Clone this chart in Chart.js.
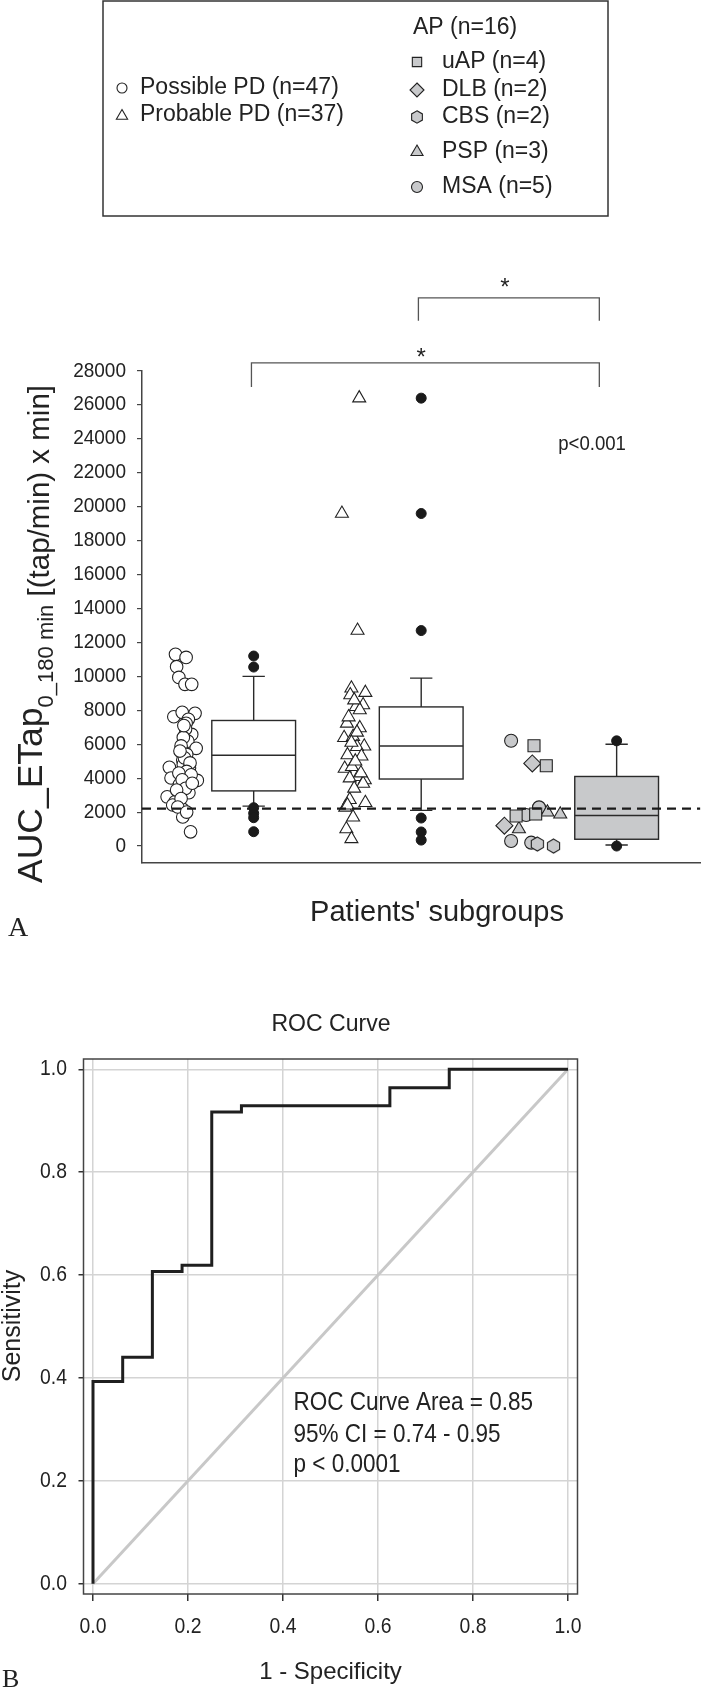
<!DOCTYPE html>
<html lang="en">
<head>
<meta charset="UTF-8">
<title>AUC_ETap by subgroup and ROC curve</title>
<script src="https://cdn.jsdelivr.net/npm/chart.js"></script>
<style>
    body { margin: 0; background: #fff; width: 710px; height: 1689px; position: relative; overflow: hidden; }
    .panel { position: absolute; left: 0; }
    #panelA { top: 0; }
    #panelB { top: 960px; }
</style>
</head>
<body>
<div class="panel" id="panelA"><canvas id="boxChart" width="710" height="960"></canvas></div>
<div class="panel" id="panelB"><canvas id="rocChart" width="710" height="729"></canvas></div>

<script>
// ---- panel A: AUC_ETap 0-180 min per patient (x = jittered position on the group axis)
var possibleX = [0.60, 0.79, 0.62, 0.66, 0.77, 0.89, 0.57, 0.72, 0.95, 0.83, 0.79, 0.89, 0.82, 0.97, 0.70, 0.73, 0.74, 0.49, 0.85, 0.52, 0.99, 0.67, 0.84, 0.45, 0.59, 0.55, 0.73, 0.73, 0.87,
                 0.78, 0.74, 0.70, 0.80, 0.76, 0.86, 0.80, 0.66, 0.88, 0.72, 0.78, 0.62, 0.70, 0.64, 0.80, 0.75, 0.68, 0.90];
var possibleY = [11300, 11120, 10570, 9940, 9530, 9530, 7620, 7880, 7820, 7470, 7230, 6580, 6180, 5760, 5530, 5070, 4800, 4640, 4600, 4010, 3870, 3620, 3140, 2900, 2610, 2420, 2170, 1710, 840,
                 6900, 6400, 5900, 5400, 5200, 4900, 4400, 4300, 4200, 3900, 3400, 3300, 2800, 2300, 2000, 7100, 5600, 3700];

var probableX = [3.89, 3.58, 3.86, 3.75, 4.00, 3.73, 3.96, 3.83, 3.90, 3.67, 3.90, 3.62, 3.78, 3.98, 3.85, 3.68, 3.93, 3.63, 3.76, 3.87, 3.99, 3.72, 3.96, 3.72, 4.00, 3.64, 3.78, 3.66, 3.75,
                 3.80, 3.70, 3.85, 3.75, 3.82, 3.92, 3.80, 3.68];
var probableY = [26400, 19600, 12700, 9300, 9040, 8900, 8310, 8210, 8020, 7230, 6960, 6380, 6450, 5880, 5850, 5370, 5290, 4570, 4670, 4080, 3890, 4000, 3690, 2730, 2550, 2280, 1700, 1000, 420,
                 8600, 7600, 6700, 6100, 5000, 4300, 3400, 2400];

var uapX = [7.02, 7.24, 6.70, 7.05];
var uapY = [5910, 4730, 1770, 1890];
var dlbX = [6.99, 6.49];
var dlbY = [4870, 1200];
var cbsX = [7.08, 7.37];
var cbsY = [120, 0];
var pspX = [6.75, 7.26, 7.49];
var pspY = [1000, 1990, 1870];
var msaX = [6.61, 7.11, 6.88, 6.61, 6.97];
var msaY = [6210, 2280, 1830, 300, 200];

// box plots: possible PD, probable PD, AP
var boxPos = [2, 5, 8.5];
var boxLow = [2350, 2100, 60];
var boxQ1 = [3250, 3950, 400];
var boxMed = [5350, 5900, 1800];
var boxQ3 = [7400, 8200, 4100];
var boxHigh = [10000, 9900, 6000];
var outliers = [[11200, 10550, 2260, 1930, 1670, 845], [26400, 19600, 12700, 1650, 830, 350], [6200, 0]];
var cutoff = 2200;
var yTicksA = [0, 2000, 4000, 6000, 8000, 10000, 12000, 14000, 16000, 18000, 20000, 22000, 24000, 26000, 28000];

// ---- panel B: ROC curve
var fpr = [0, 0, 0.0625, 0.125, 0.1875, 0.25, 0.3125, 0.625, 0.75, 1];
var tpr = [0, 0.393, 0.440, 0.607, 0.619, 0.917, 0.929, 0.964, 1, 1];
var refX = [0, 1];
var refY = [0, 1];
var rocTicks = [0, 0.2, 0.4, 0.6, 0.8, 1.0];
var rocTickLabels = ['0.0', '0.2', '0.4', '0.6', '0.8', '1.0'];

var INK = '#222';
var GRAY = '#c8c9cb';
var SANS = '"Liberation Sans", Arial, sans-serif';
var SERIF = '"Liberation Serif", "Times New Roman", serif';

function pts(xs, ys) {
    return xs.map(function (x, i) { return { x: x, y: ys[i] }; });
}

function label(ctx, text, x, y, o) {
    o = o || {};
    ctx.save();
    ctx.font = (o.size || 20) + 'px ' + (o.family || SANS);
    ctx.fillStyle = o.color || INK;
    ctx.textAlign = o.align || 'left';
    ctx.textBaseline = o.baseline || 'middle';
    ctx.translate(x, y);
    if (o.rot) ctx.rotate(o.rot);
    ctx.scale(o.sx || 1, 1);
    ctx.fillText(text, 0, 0);
    ctx.restore();
}

function marker(ctx, shape, x, y, r, fill) {
    ctx.save();
    ctx.fillStyle = fill;
    ctx.strokeStyle = INK;
    ctx.lineWidth = 1.1;
    ctx.beginPath();
    if (shape === 'circle') {
        ctx.arc(x, y, r, 0, Math.PI * 2);
    } else if (shape === 'triangle') {
        ctx.moveTo(x, y - r);
        ctx.lineTo(x + r * 0.866, y + r * 0.5);
        ctx.lineTo(x - r * 0.866, y + r * 0.5);
        ctx.closePath();
    } else if (shape === 'rect') {
        var s = r * 0.7071;
        ctx.rect(x - s, y - s, 2 * s, 2 * s);
    } else if (shape === 'rectRot') {
        ctx.moveTo(x, y - r); ctx.lineTo(x + r, y); ctx.lineTo(x, y + r); ctx.lineTo(x - r, y);
        ctx.closePath();
    } else if (shape === 'hexagon') {
        for (var k = 0; k < 6; k++) {
            var a = -Math.PI / 2 + k * Math.PI / 3;
            var px = x + r * Math.cos(a), py = y + r * Math.sin(a);
            if (k === 0) ctx.moveTo(px, py); else ctx.lineTo(px, py);
        }
        ctx.closePath();
    }
    ctx.fill();
    ctx.stroke();
    ctx.restore();
}

function hexImage(r) {
    var c = document.createElement('canvas');
    c.width = Math.ceil(r * 1.8) + 2;
    c.height = Math.ceil(r * 2) + 2;
    marker(c.getContext('2d'), 'hexagon', c.width / 2, c.height / 2, r, GRAY);
    return c;
}

function outlierPoints() {
    var list = [];
    outliers.forEach(function (vals, g) {
        vals.forEach(function (v) { list.push({ x: boxPos[g], y: v }); });
    });
    return list;
}

var panelA = {
    id: 'panelA',
    beforeDatasetsDraw: function (chart) {
        var ctx = chart.ctx, xs = chart.scales.x, ys = chart.scales.y;
        var fills = ['#ffffff', '#ffffff', GRAY];
        ctx.save();
        ctx.strokeStyle = '#2a2a2a';
        ctx.lineWidth = 1.4;
        for (var g = 0; g < boxPos.length; g++) {
            var cx = xs.getPixelForValue(boxPos[g]);
            var half = xs.getPixelForValue(boxPos[g] + 0.75) - cx;
            var cap = xs.getPixelForValue(boxPos[g] + 0.2) - cx;
            var yLo = ys.getPixelForValue(boxLow[g]), yQ1 = ys.getPixelForValue(boxQ1[g]);
            var yMed = ys.getPixelForValue(boxMed[g]), yQ3 = ys.getPixelForValue(boxQ3[g]);
            var yHi = ys.getPixelForValue(boxHigh[g]);
            ctx.beginPath();
            ctx.moveTo(cx, yQ3); ctx.lineTo(cx, yHi);
            ctx.moveTo(cx - cap, yHi); ctx.lineTo(cx + cap, yHi);
            ctx.moveTo(cx, yQ1); ctx.lineTo(cx, yLo);
            ctx.moveTo(cx - cap, yLo); ctx.lineTo(cx + cap, yLo);
            ctx.stroke();
            ctx.fillStyle = fills[g];
            ctx.fillRect(cx - half, yQ3, 2 * half, yQ1 - yQ3);
            ctx.strokeRect(cx - half, yQ3, 2 * half, yQ1 - yQ3);
            ctx.beginPath();
            ctx.moveTo(cx - half, yMed); ctx.lineTo(cx + half, yMed);
            ctx.stroke();
        }
        ctx.restore();
    },
    afterDraw: function (chart) {
        var ctx = chart.ctx, xs = chart.scales.x, ys = chart.scales.y;

        // legend box
        ctx.save();
        ctx.strokeStyle = '#333';
        ctx.lineWidth = 1.5;
        ctx.strokeRect(103, 1, 505, 215);
        ctx.restore();
        marker(ctx, 'circle', 122, 88, 5, '#fff');
        label(ctx, 'Possible PD (n=47)', 140, 88, { size: 23 });
        marker(ctx, 'triangle', 122, 116, 6.5, '#fff');
        label(ctx, 'Probable PD (n=37)', 140, 115, { size: 23 });
        label(ctx, 'AP (n=16)', 413, 28, { size: 23 });
        var apLegend = [['rect', 'uAP (n=4)', 62, 6.6], ['rectRot', 'DLB (n=2)', 90, 7], ['hexagon', 'CBS (n=2)', 117, 6.2], ['triangle', 'PSP (n=3)', 152, 7], ['circle', 'MSA (n=5)', 187, 5.5]];
        apLegend.forEach(function (e) {
            marker(ctx, e[0], 417, e[2], e[3], GRAY);
            label(ctx, e[1], 442, e[2], { size: 23 });
        });

        // y tick labels
        yTicksA.forEach(function (v) {
            label(ctx, String(v), 126, ys.getPixelForValue(v), { size: 20, align: 'right', sx: 0.95 });
        });

        // y axis title with subscript
        var parts = [
            { t: 'AUC_ETap', size: 35.5, shift: 0 },
            { t: '0_180 min', size: 22, shift: 11 },
            { t: ' [(tap/min) x min]', size: 29.5, shift: 7 }
        ];
        ctx.save();
        ctx.translate(42, 883);
        ctx.rotate(-Math.PI / 2);
        ctx.fillStyle = INK;
        ctx.textBaseline = 'alphabetic';
        var pos = 0;
        parts.forEach(function (p) {
            ctx.font = p.size + 'px ' + SANS;
            ctx.fillText(p.t, pos, p.shift);
            pos += ctx.measureText(p.t).width;
        });
        ctx.restore();

        // significance brackets
        var brackets = [
            { a: 1.96, b: 8.19, top: 28480, leg: 27060, sx: 5.0, sy: 29130 },
            { a: 4.95, b: 8.19, top: 32310, leg: 30955, sx: 6.5, sy: 33250 }
        ];
        ctx.save();
        ctx.strokeStyle = '#555';
        ctx.lineWidth = 1.3;
        brackets.forEach(function (b) {
            var xa = xs.getPixelForValue(b.a), xb = xs.getPixelForValue(b.b);
            var yt = ys.getPixelForValue(b.top), yl = ys.getPixelForValue(b.leg);
            ctx.beginPath();
            ctx.moveTo(xa, yl); ctx.lineTo(xa, yt); ctx.lineTo(xb, yt); ctx.lineTo(xb, yl);
            ctx.stroke();
            label(ctx, '*', xs.getPixelForValue(b.sx), ys.getPixelForValue(b.sy) + 13, { size: 24, align: 'center', baseline: 'alphabetic' });
        });
        ctx.restore();

        label(ctx, 'p<0.001', xs.getPixelForValue(8.06), ys.getPixelForValue(23640), { size: 20, align: 'center', sx: 0.93 });
        label(ctx, "Patients' subgroups", 437, 913, { size: 29, align: 'center' });
        label(ctx, 'A', 8, 929, { size: 28, family: SERIF });
    }
};

new Chart(document.getElementById('boxChart'), {
    type: 'scatter',
    data: {
        datasets: [
            { type: 'line', data: [{ x: 0, y: cutoff }, { x: 10, y: cutoff }], borderColor: '#1a1a1a', borderWidth: 2.2, borderDash: [9, 6], pointRadius: 0 },
            { data: outlierPoints(), pointStyle: 'circle', pointRadius: 5, backgroundColor: '#1a1a1a', borderColor: '#1a1a1a', borderWidth: 1 },
            { data: pts(uapX, uapY), pointStyle: 'rect', pointRadius: 8.5, backgroundColor: GRAY, borderColor: INK, borderWidth: 1.1 },
            { data: pts(dlbX, dlbY), pointStyle: 'rectRot', pointRadius: 8.5, backgroundColor: GRAY, borderColor: INK, borderWidth: 1.1 },
            { data: pts(cbsX, cbsY), pointStyle: hexImage(7), pointRadius: 7 },
            { data: pts(pspX, pspY), pointStyle: 'triangle', pointRadius: 7.5, backgroundColor: GRAY, borderColor: INK, borderWidth: 1.1 },
            { data: pts(msaX, msaY), pointStyle: 'circle', pointRadius: 6.5, backgroundColor: GRAY, borderColor: INK, borderWidth: 1.1 },
            { data: pts(probableX, probableY), pointStyle: 'triangle', pointRadius: 7.5, backgroundColor: '#fff', borderColor: INK, borderWidth: 1.1 },
            { data: pts(possibleX, possibleY), pointStyle: 'circle', pointRadius: 6.3, backgroundColor: '#fff', borderColor: INK, borderWidth: 1.1 }
        ]
    },
    options: {
        responsive: false,
        animation: false,
        events: [],
        layout: { padding: { left: 137, right: 0, top: 371, bottom: 97 } },
        plugins: { legend: { display: false }, tooltip: { enabled: false } },
        scales: {
            x: {
                type: 'linear', min: 0, max: 10,
                grid: { display: false, drawTicks: false },
                ticks: { display: false },
                border: { color: '#444', width: 1.5 }
            },
            y: {
                type: 'linear', min: -1000, max: 28000,
                afterBuildTicks: function (scale) { scale.ticks = yTicksA.map(function (v) { return { value: v }; }); },
                grid: { drawOnChartArea: false, drawTicks: true, tickLength: 5, color: '#444', lineWidth: 1.2 },
                ticks: { display: false },
                border: { color: '#444', width: 1.5 }
            }
        }
    },
    plugins: [panelA]
});

var panelB = {
    id: 'panelB',
    afterDraw: function (chart) {
        var ctx = chart.ctx, xs = chart.scales.x, ys = chart.scales.y, a = chart.chartArea;
        ctx.save();
        ctx.strokeStyle = '#444';
        ctx.lineWidth = 1.5;
        ctx.strokeRect(a.left, a.top, a.right - a.left, a.bottom - a.top);
        ctx.restore();
        rocTicks.forEach(function (v, i) {
            label(ctx, rocTickLabels[i], 67, ys.getPixelForValue(v), { size: 22, align: 'right', sx: 0.88 });
            label(ctx, rocTickLabels[i], xs.getPixelForValue(v), 667, { size: 22, align: 'center', sx: 0.88 });
        });
        label(ctx, 'ROC Curve', 331, 64, { size: 24, align: 'center', sx: 0.96 });
        label(ctx, 'Sensitivity', 13, 366, { size: 25, align: 'center', rot: -Math.PI / 2 });
        label(ctx, '1 - Specificity', 330.5, 712, { size: 24, align: 'center' });
        label(ctx, 'ROC Curve Area = 0.85', 293.5, 443, { size: 25, sx: 0.9 });
        label(ctx, '95% CI = 0.74 - 0.95', 293.5, 475, { size: 25, sx: 0.9 });
        label(ctx, 'p < 0.0001', 293.5, 505, { size: 25, sx: 0.9 });
        label(ctx, 'B', 2, 720, { size: 26, family: SERIF });
    }
};

new Chart(document.getElementById('rocChart'), {
    type: 'scatter',
    data: {
        datasets: [
            { type: 'line', data: pts(fpr, tpr), stepped: 'before', borderColor: '#1f1f1f', borderWidth: 3, pointRadius: 0 },
            { type: 'line', data: pts(refX, refY), borderColor: '#c8c8c8', borderWidth: 3, pointRadius: 0 }
        ]
    },
    options: {
        responsive: false,
        animation: false,
        events: [],
        layout: { padding: { left: 78.5, right: 132.5, top: 99, bottom: 88 } },
        plugins: { legend: { display: false }, tooltip: { enabled: false } },
        scales: {
            x: {
                type: 'linear', min: -0.02, max: 1.02,
                afterBuildTicks: function (scale) { scale.ticks = rocTicks.map(function (v) { return { value: v }; }); },
                grid: { color: '#d4d4d4', lineWidth: 1.5, tickColor: '#333', tickLength: 7 },
                ticks: { display: false },
                border: { display: false }
            },
            y: {
                type: 'linear', min: -0.02, max: 1.02,
                afterBuildTicks: function (scale) { scale.ticks = rocTicks.map(function (v) { return { value: v }; }); },
                grid: { color: '#d4d4d4', lineWidth: 1.5, tickColor: '#333', tickLength: 5 },
                ticks: { display: false },
                border: { display: false }
            }
        }
    },
    plugins: [panelB]
});
</script>
</body>
</html>
